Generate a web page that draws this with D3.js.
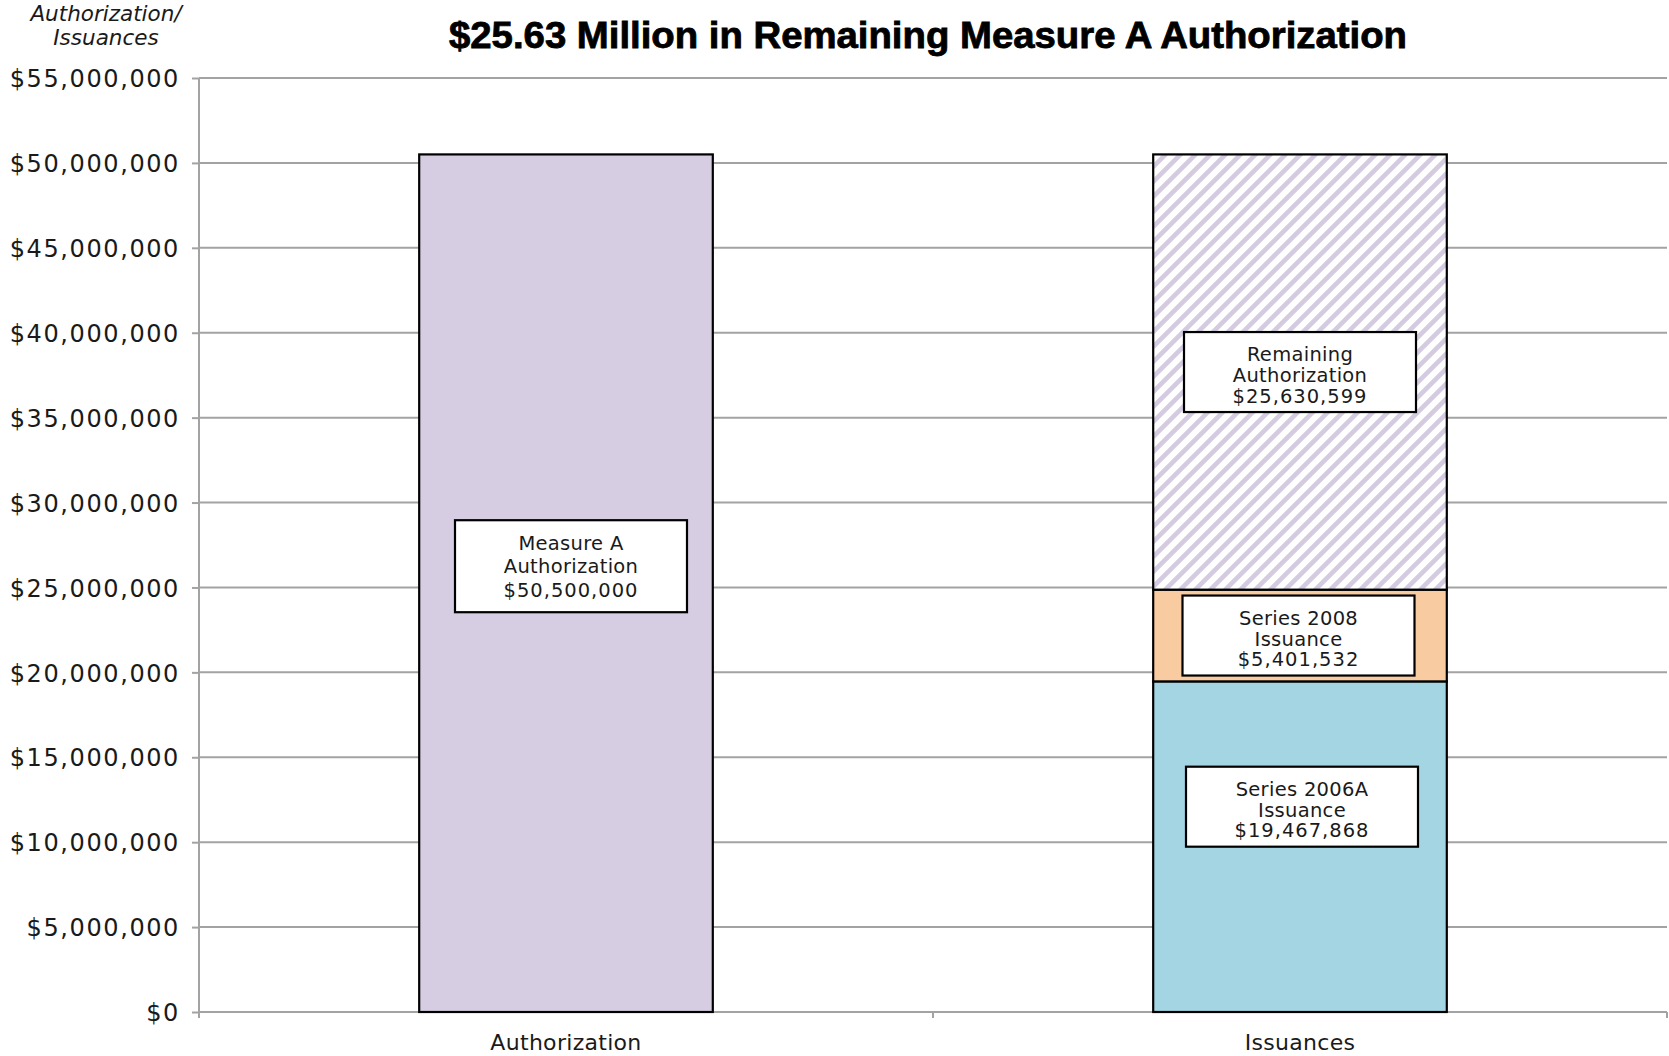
<!DOCTYPE html>
<html>
<head>
<meta charset="utf-8">
<script src="https://cdn.jsdelivr.net/npm/d3@7"></script>
<style>
  html, body { margin: 0; padding: 0; background: #fff; }
  svg { display: block; }
</style>
</head>
<body>
<svg id="chart" width="1669" height="1056"></svg>
<script>
// Bond authorization vs. issuances
const categories = ["Authorization", "Issuances"];
const seriesNames = ["Measure A Authorization", "Series 2006A Issuance", "Series 2008 Issuance", "Remaining Authorization"];
const seriesCategory = ["Authorization", "Issuances", "Issuances", "Issuances"];
const seriesValues = [50500000, 19467868, 5401532, 25630599];
const labelLines = [["Measure A", "Authorization"], ["Series 2006A", "Issuance"], ["Series 2008", "Issuance"], ["Remaining", "Authorization"]];
const yTickValues = [0, 5000000, 10000000, 15000000, 20000000, 25000000, 30000000, 35000000, 40000000, 45000000, 50000000, 55000000];
const titleText = "$25.63 Million in Remaining Measure A Authorization";
const yTitleLines = ["Authorization/", "Issuances"];

// styling per series
const fills = ["#D6CDE2", "#A3D5E3", "#F9CBA1", "url(#hatch)"];
// label box nudges (px) relative to the segment centre, and box heights
const labelNudge = [[5, -17], [2, -40], [-1.5, 0], [0, 0]];
const labelBoxH = [92, 80, 80, 80];
const labelBoxW = 232;

const svg = d3.select("#chart");
const margin = { left: 199, right: 2, top: 78, bottom: 44 };
const W = 1669, H = 1056;
const plotR = W - margin.right;
const plotB = H - margin.bottom;

const x = d3.scaleBand().domain(categories).range([margin.left, plotR]).paddingInner(0.6).paddingOuter(0.3);
const y = d3.scaleLinear().domain([0, 55000000]).range([plotB, margin.top]);

// diagonal hatch for the remaining authorization
const defs = svg.append("defs");
const P = 15;
const pat = defs.append("pattern").attr("id", "hatch").attr("patternUnits", "userSpaceOnUse")
  .attr("width", P).attr("height", P);
pat.append("rect").attr("width", P).attr("height", P).attr("fill", "#fff");
pat.append("path").attr("d", `M-3,3 L3,-3 M0,${P} L${P},0 M${P - 3},${P + 3} L${P + 3},${P - 3}`)
  .attr("stroke", "#D4CBE1").attr("stroke-width", 4.6);

// gridlines
const grid = "#A3A3A3";
svg.append("g").selectAll("line").data(yTickValues).join("line")
  .attr("x1", margin.left).attr("x2", plotR)
  .attr("y1", d => y(d)).attr("y2", d => y(d))
  .attr("stroke", grid).attr("stroke-width", 2);

// y axis
const yAxis = d3.axisLeft(y).tickValues(yTickValues).tickFormat(d3.format("$,")).tickSize(7).tickPadding(12);
const gy = svg.append("g").attr("transform", `translate(${margin.left},0)`).call(yAxis);
gy.select(".domain").attr("stroke", grid).attr("stroke-width", 2).attr("d", `M0,${margin.top}V${plotB + 5}`);
gy.selectAll(".tick line").attr("stroke", grid).attr("stroke-width", 2);
gy.selectAll(".tick text").attr("font-family", "DejaVu Sans, sans-serif").attr("font-size", 24)
  .attr("letter-spacing", 1.6).attr("fill", "#1a1a1a").attr("dy", "0.36em");

// x axis: ticks on category boundaries
const step = x.step();
const boundaries = [margin.left, margin.left + step, margin.left + 2 * step];
svg.append("g").selectAll("line").data(boundaries).join("line")
  .attr("x1", d => d).attr("x2", d => d).attr("y1", plotB).attr("y2", plotB + 6)
  .attr("stroke", grid).attr("stroke-width", 2);
svg.append("line").attr("x1", margin.left).attr("x2", plotR).attr("y1", plotB).attr("y2", plotB)
  .attr("stroke", grid).attr("stroke-width", 2);
svg.append("g").selectAll("text").data(categories).join("text")
  .attr("x", d => x(d) + x.bandwidth() / 2).attr("y", plotB + 38)
  .attr("text-anchor", "middle").attr("font-family", "DejaVu Sans, sans-serif").attr("font-size", 22)
  .attr("letter-spacing", 0.3).attr("fill", "#1a1a1a").text(d => d);

// stacked segments
const segs = [];
const base = {};
seriesValues.forEach((v, i) => {
  const c = seriesCategory[i];
  const y0 = base[c] || 0;
  segs.push({ i, c, y0, y1: y0 + v, v });
  base[c] = y0 + v;
});

svg.append("g").selectAll("rect").data(segs).join("rect")
  .attr("x", d => x(d.c)).attr("width", x.bandwidth())
  .attr("y", d => y(d.y1)).attr("height", d => y(d.y0) - y(d.y1))
  .attr("fill", d => fills[d.i]).attr("stroke", "#000").attr("stroke-width", 2.2);

// value label boxes
const fmt = d3.format("$,");
const lg = svg.append("g").selectAll("g").data(segs).join("g")
  .attr("transform", d => {
    const cx = x(d.c) + x.bandwidth() / 2 + labelNudge[d.i][0];
    const cy = y((d.y0 + d.y1) / 2) + labelNudge[d.i][1];
    return `translate(${cx},${cy})`;
  });
lg.append("rect")
  .attr("x", -labelBoxW / 2).attr("width", labelBoxW)
  .attr("y", d => -labelBoxH[d.i] / 2).attr("height", d => labelBoxH[d.i])
  .attr("fill", "#fff").attr("stroke", "#000").attr("stroke-width", 2.2);
lg.each(function (d) {
  const g = d3.select(this);
  const lines = labelLines[d.i].concat([fmt(d.v)]);
  const gap = d.i === 0 ? 23.5 : 20.8;
  const off = d.i === 0 ? 7 : 10;
  lines.forEach((t, k) => {
    g.append("text").attr("x", 0).attr("y", (k - 1) * gap + off)
      .attr("text-anchor", "middle").attr("font-family", "DejaVu Sans, sans-serif")
      .attr("font-size", 19.5).attr("letter-spacing", k === 2 ? 1 : 0.3)
      .attr("fill", "#1a1a1a").text(t);
  });
});

// title
svg.append("text").attr("x", 928).attr("y", 48)
  .attr("text-anchor", "middle")
  .attr("font-family", "Liberation Sans Narrow, Liberation Sans, Arial, sans-serif")
  .attr("font-weight", "bold").attr("font-size", 36)
  .attr("textLength", 958).attr("lengthAdjust", "spacingAndGlyphs")
  .attr("stroke", "#000").attr("stroke-width", 0.8)
  .attr("fill", "#000").text(titleText);

// y axis title
svg.append("g").selectAll("text").data(yTitleLines).join("text")
  .attr("x", 106).attr("y", (d, i) => 21 + i * 24)
  .attr("text-anchor", "middle").attr("font-family", "DejaVu Sans, sans-serif")
  .attr("font-style", "italic").attr("font-size", 21.5).attr("fill", "#1a1a1a").text(d => d);
</script>
</body>
</html>
